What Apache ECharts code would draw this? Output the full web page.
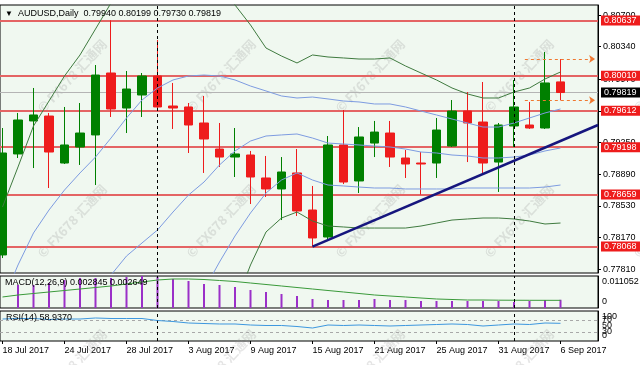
<!DOCTYPE html>
<html><head><meta charset="utf-8">
<script src="https://cdn.jsdelivr.net/npm/echarts@6/dist/echarts.min.js"></script>
<style>html,body{margin:0;padding:0;background:#fff}#c{width:640px;height:365px}</style>
</head><body><div id="c"></div>
<script>
const dates = ['18 Jul 2017','19 Jul 2017','20 Jul 2017','21 Jul 2017','24 Jul 2017','25 Jul 2017','26 Jul 2017','27 Jul 2017','28 Jul 2017','31 Jul 2017','1 Aug 2017','2 Aug 2017','3 Aug 2017','4 Aug 2017','7 Aug 2017','8 Aug 2017','9 Aug 2017','10 Aug 2017','11 Aug 2017','14 Aug 2017','15 Aug 2017','16 Aug 2017','17 Aug 2017','18 Aug 2017','21 Aug 2017','22 Aug 2017','23 Aug 2017','24 Aug 2017','25 Aug 2017','28 Aug 2017','29 Aug 2017','30 Aug 2017','31 Aug 2017','1 Sep 2017','4 Sep 2017','5 Sep 2017','6 Sep 2017'];
const open  = [0.77973,0.79121,0.79496,0.79552,0.79018,0.79200,0.79337,0.80041,0.79643,0.79791,0.80007,0.79666,0.79655,0.79473,0.79177,0.79086,0.79109,0.78848,0.78723,0.78905,0.78484,0.78177,0.79223,0.78814,0.79245,0.79359,0.79075,0.79018,0.79018,0.79211,0.79609,0.79484,0.79029,0.79439,0.79450,0.79416,0.79940];
const high  = [0.79416,0.79587,0.79871,0.79587,0.79655,0.79700,0.80132,0.80640,0.80064,0.80041,0.80416,0.79928,0.79700,0.79780,0.79473,0.79416,0.79155,0.79098,0.79086,0.79177,0.78757,0.79325,0.79621,0.79427,0.79496,0.79496,0.79166,0.79143,0.79530,0.79734,0.79825,0.79939,0.79473,0.79962,0.79712,0.80280,0.80199];
const low   = [0.77938,0.79075,0.78961,0.78734,0.79007,0.78996,0.78768,0.79541,0.79359,0.79541,0.79621,0.79405,0.79132,0.78905,0.78973,0.78859,0.78552,0.78632,0.78370,0.78416,0.78068,0.78154,0.78779,0.78677,0.79086,0.78973,0.78848,0.78659,0.78848,0.79200,0.79029,0.78882,0.78689,0.79200,0.79405,0.79405,0.79730];
const close = [0.79132,0.79507,0.79564,0.79143,0.79223,0.79359,0.80018,0.79632,0.79859,0.80007,0.79655,0.79643,0.79450,0.79291,0.79086,0.79121,0.78859,0.78723,0.78916,0.78473,0.78166,0.79223,0.78802,0.79314,0.79370,0.79086,0.79007,0.79007,0.79393,0.79609,0.79473,0.79018,0.79450,0.79655,0.79416,0.79928,0.79819];

const bbUpper2 = [0.78518,0.78973,0.79439,0.79723,0.80007,0.80246,0.80541,0.80837,0.81098,0.81360,0.81485,0.81462,0.81360,0.81235,0.81030,0.80814,0.80587,0.80325,0.80234,0.80155,0.80246,0.80223,0.80212,0.80200,0.80200,0.80212,0.80121,0.80041,0.79962,0.79871,0.79803,0.79757,0.79757,0.79825,0.79871,0.79973,0.80053];
const bbUpper1 = [0.77438,0.77859,0.78223,0.78484,0.78711,0.78905,0.79086,0.79302,0.79530,0.79734,0.79871,0.79962,0.80007,0.80018,0.80007,0.79962,0.79893,0.79837,0.79780,0.79757,0.79768,0.79746,0.79723,0.79712,0.79689,0.79689,0.79655,0.79609,0.79564,0.79518,0.79473,0.79427,0.79427,0.79473,0.79530,0.79587,0.79632];
const bbMid    = [null,null,null,null,null,null,0.77461,0.77745,0.77961,0.78109,0.78257,0.78461,0.78654,0.78802,0.78996,0.79155,0.79268,0.79325,0.79337,0.79348,0.79302,0.79245,0.79234,0.79223,0.79211,0.79200,0.79177,0.79143,0.79132,0.79109,0.79098,0.79075,0.79075,0.79086,0.79109,0.79155,0.79189];
const bbLower1 = [null,null,null,null,null,null,null,null,null,null,null,null,null,0.77575,0.77893,0.78189,0.78450,0.78677,0.78825,0.78905,0.78825,0.78768,0.78757,0.78745,0.78734,0.78734,0.78723,0.78723,0.78723,0.78723,0.78734,0.78734,0.78734,0.78734,0.78734,0.78745,0.78768];
const bbLower2 = [null,null,null,null,null,null,null,null,null,null,null,null,null,null,null,0.77404,0.77859,0.78234,0.78393,0.78461,0.78359,0.78302,0.78291,0.78279,0.78279,0.78279,0.78279,0.78302,0.78336,0.78370,0.78382,0.78393,0.78393,0.78382,0.78359,0.78325,0.78336];

const macdMain   = [null,0.00794,0.00794,0.00863,0.00966,0.01036,0.01036,0.01036,0.01070,0.011052,0.01070,0.01001,0.00932,0.00828,0.00794,0.00725,0.00621,0.00552,0.00483,0.00414,0.00311,0.00276,0.00276,0.00276,0.00311,0.00276,0.00276,0.00242,0.00242,0.00242,0.00242,0.00242,0.00242,0.00207,0.00242,0.00276,0.002845];
const macdSignal = [0.00380,0.00449,0.00501,0.00553,0.00604,0.00656,0.00708,0.00760,0.00829,0.00898,0.00967,0.01002,0.01002,0.00984,0.00950,0.00915,0.00863,0.00812,0.00760,0.00708,0.00656,0.00604,0.00553,0.00501,0.00449,0.00414,0.00380,0.00345,0.00311,0.00294,0.00276,0.00276,0.00270,0.00268,0.00266,0.00265,0.002649];
const rsi = [73.3,75.0,75.0,71.7,73.3,73.3,76.7,75.0,75.0,75.0,68.3,65.0,60.0,58.3,56.7,56.7,53.3,51.7,51.7,48.3,43.3,53.3,51.7,53.3,51.7,50.0,51.7,53.3,55.0,56.7,55.0,50.0,53.3,56.7,55.0,60.0,58.937];

const levels = [0.80637,0.80010,0.79612,0.79198,0.78659,0.78068];
const lastPrice = 0.79819;
const priceTicks = [0.77810,0.78170,0.78530,0.78890,0.79250,0.79610,0.79970,0.80340,0.80700];
const rsiTicksA = [0,50,100];
const rsiTicksB = [30,70];
const rsiLevels = [70,30];
const dateTickIdx = [0,4,8,12,16,20,24,28,32,36];
const monthStartIdx = [10,33];
const trendline = [[20,0.78068],[38.42,0.79450]];
const rangeLevels = [0.80199,0.79730];
const rangeSpan = [33.7,38.23];

const F = '"Liberation Sans", Arial, sans-serif';
const XMIN = -2.5/15.5, XMAX = 595.5/15.5;
const last = dates.length - 1;
const pair = arr => arr.map((v,i) => v == null ? null : [i,v]).filter(Boolean);
const macdMax = Math.max(...macdMain.filter(v=>v!=null), ...macdSignal);

const chart = echarts.init(document.getElementById('c'), null, {renderer:'canvas'});

const gridBase = {left:0, width:598, show:true, backgroundColor:'#f0f8f0', borderColor:'#000', borderWidth:1, containLabel:false, outerBoundsMode:'none'};
const xHidden = i => ({type:'value', gridIndex:i, min:XMIN, max:XMAX, splitLine:{show:false}, axisLine:{show:false}, axisTick:{show:false}, axisLabel:{show:false}});

const sepMark = {silent:true, precision:6, symbol:['none','none'], z:6, label:{show:false}, lineStyle:{color:'#000', type:[3,3], width:1}, data: monthStartIdx.map(v=>({xAxis:v}))};

const wmX = [72,221,370,519,668], wmY = [76,221,366];
const graphics = [];
wmX.forEach(x => wmY.forEach(y => graphics.push({type:'text', x, y, rotation:0.82, z:1, silent:true,
  style:{text:'© FX678 汇通网', fill:'rgba(150,150,150,0.25)', font:'bold 13px "Noto Sans CJK SC", sans-serif', align:'center', verticalAlign:'middle'}})));

const lblStyle = bg => ({show:true, position:'end', distance:3, formatter: p => Number(p.value).toFixed(5), color:'#fff', backgroundColor:bg, padding:[1,5,0,3], fontSize:9, lineHeight:9, fontFamily:F});
const lvlData = levels.map(v => ({yAxis:v, lineStyle:{color:'#e46464', width:2, type:'solid'}, label:lblStyle('#ee1c1c')}));
lvlData.push({yAxis:lastPrice, lineStyle:{color:'#b4b4b4', width:1, type:'solid'}, label:lblStyle('#000')});

const bandLine = (arr, color) => ({type:'line', xAxisIndex:0, yAxisIndex:0, data:pair(arr), showSymbol:false, symbol:'none', z:4, clip:true,
  lineStyle:{color, width:1}});

const subLabel = {color:'#000', fontSize:9, fontFamily:F, margin:4, hideOverlap:false};

chart.setOption({
  animation:false,
  backgroundColor:'#fff',
  textStyle:{fontFamily:F},
  title:[
    {left:5, top:9, padding:0, text:'{a|▼}  AUDUSD,Daily  ' + [open[last],high[last],low[last],close[last]].map(v=>v.toFixed(5)).join(' '),
      textStyle:{fontSize:9, fontWeight:'normal', color:'#000', fontFamily:F, rich:{a:{fontSize:8, color:'#000'}}}},
    {left:5, top:278, padding:0, text:'MACD(12,26,9) ' + macdMain[last].toFixed(6) + ' ' + macdSignal[last].toFixed(6),
      textStyle:{fontSize:9, fontWeight:'normal', color:'#000', fontFamily:F}},
    {left:6, top:313, padding:0, text:'RSI(14) ' + rsi[last].toFixed(4),
      textStyle:{fontSize:9, fontWeight:'normal', color:'#000', fontFamily:F}}
  ],
  graphic: graphics,
  grid:[
    Object.assign({top:5, height:268}, gridBase),
    Object.assign({top:276, height:32}, gridBase),
    Object.assign({top:311, height:30}, gridBase)
  ],
  xAxis:[
    xHidden(0), xHidden(1),
    {type:'value', gridIndex:2, min:XMIN, max:XMAX, splitLine:{show:false}, axisLine:{show:false},
      axisTick:{show:true, length:3, customValues:dateTickIdx, lineStyle:{color:'#000'}},
      axisLabel:{show:true, customValues:dateTickIdx, hideOverlap:false, formatter: v => dates[Math.round(v)], align:'left', margin:5, color:'#000', fontSize:9, fontFamily:F}}
  ],
  yAxis:[
    {type:'value', gridIndex:0, position:'right', min:0.77768, max:0.80814, splitLine:{show:false},
      axisLine:{show:true, onZero:false, lineStyle:{color:'#000'}},
      axisTick:{show:true, length:3, customValues:priceTicks, lineStyle:{color:'#000'}},
      axisLabel:{customValues:priceTicks, hideOverlap:false, formatter: v => v.toFixed(5), color:'#000', fontSize:9, fontFamily:F, margin:5}},
    {type:'value', gridIndex:1, position:'right', min:0, max:macdMax, splitLine:{show:false},
      axisLine:{show:true, onZero:false, lineStyle:{color:'#000'}}, axisTick:{show:false},
      axisLabel:Object.assign({customValues:[0, macdMax],
        formatter: v => v === 0 ? '{b|0}' : '{t|' + v.toFixed(6) + '}',
        rich:{t:{padding:[12,0,0,0], fontSize:9, fontFamily:F, color:'#000'}, b:{padding:[0,0,12,0], fontSize:9, fontFamily:F, color:'#000'}}}, subLabel)},
    {type:'value', gridIndex:2, position:'right', min:0, max:100, splitLine:{show:false},
      axisLine:{show:true, onZero:false, lineStyle:{color:'#000'}}, axisTick:{show:false},
      axisLabel:Object.assign({customValues:rsiTicksA,
        formatter: v => v === 100 ? '{t|100}' : (v === 0 ? '{b|0}' : String(v)),
        rich:{t:{padding:[11,0,0,0], fontSize:9, fontFamily:F, color:'#000'}, b:{padding:[0,0,10,0], fontSize:9, fontFamily:F, color:'#000'}}}, subLabel)},
    {type:'value', gridIndex:2, position:'right', offset:0, min:0, max:100, splitLine:{show:false},
      axisLine:{show:false}, axisTick:{show:false},
      axisLabel:Object.assign({customValues:rsiTicksB, formatter: v => String(v)}, subLabel)}
  ],
  series:[
    {type:'line', name:'levels', xAxisIndex:0, yAxisIndex:0, data:[[0, close[0]]], showSymbol:false, symbol:'none', z:1,
      lineStyle:{opacity:0},
      markLine:{silent:true, precision:6, symbol:['none','none'], z:1, data:lvlData}},
    {type:'candlestick', xAxisIndex:0, yAxisIndex:0, barWidth:9, clip:true, z:3,
      encode:{x:0, y:[1,2,3,4]},
      data: dates.map((d,i) => [i, open[i], close[i], low[i], high[i]]),
      itemStyle:{color:'#008000', color0:'#ee1c1c', borderColor:'#008000', borderColor0:'#ee1c1c', borderWidth:1},
      markLine: sepMark},
    bandLine(bbUpper2, '#3f7a3f'),
    bandLine(bbLower2, '#3f7a3f'),
    bandLine(bbUpper1, '#7d9be0'),
    bandLine(bbMid, '#7d9be0'),
    bandLine(bbLower1, '#7d9be0'),
    {type:'line', xAxisIndex:0, yAxisIndex:0, data:trendline, showSymbol:false, symbol:'none', z:5, clip:true,
      lineStyle:{color:'#16167e', width:2.5},
      markLine:{silent:true, precision:6, symbol:['none','arrow'], symbolSize:6, z:5, label:{show:false},
        lineStyle:{color:'#f07830', type:[3,3], width:1},
        data: rangeLevels.map(v => [{coord:[rangeSpan[0], v]}, {coord:[rangeSpan[1], v]}])}},
    {type:'bar', xAxisIndex:1, yAxisIndex:1, barWidth:2, data:pair(macdMain), itemStyle:{color:'#9b30c8'}, z:3,
      markLine: sepMark},
    {type:'line', xAxisIndex:1, yAxisIndex:1, data:pair(macdSignal), showSymbol:false, symbol:'none', z:4,
      lineStyle:{color:'#3a9a3a', width:1}},
    {type:'line', xAxisIndex:2, yAxisIndex:2, data:pair(rsi), showSymbol:false, symbol:'none', z:4,
      lineStyle:{color:'#3d97df', width:1},
      markLine:{silent:true, precision:6, symbol:['none','none'], z:2, label:{show:false},
        data: rsiLevels.map(v=>({yAxis:v, lineStyle:{color:'#a8a8a8', type:[3,3], width:1}})).concat(monthStartIdx.map(v=>({xAxis:v, lineStyle:{color:'#000', type:[3,3], width:1}})))}}
  ]
});
</script></body></html>
